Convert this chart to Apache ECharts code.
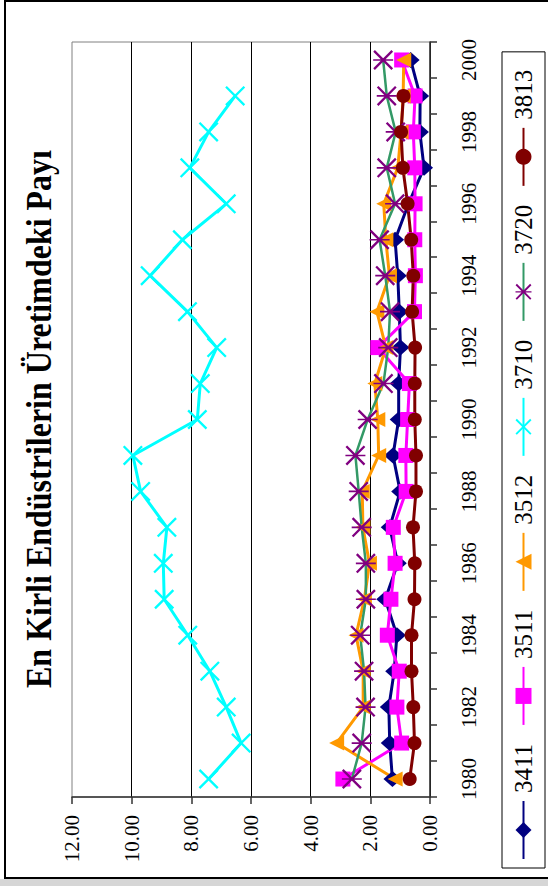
<!DOCTYPE html>
<html>
<head>
<meta charset="utf-8">
<script src="https://cdn.jsdelivr.net/npm/echarts@6/dist/echarts.min.js"></script>
<style>
  html, body { margin: 0; padding: 0; background: #fff; overflow: hidden; }
  #page { position: relative; width: 548px; height: 886px; overflow: hidden; background: #fff; }
  /* The chart is laid out landscape and turned a quarter turn counter-clockwise */
  #chart { position: absolute; left: 0; top: 886px; width: 886px; height: 548px;
           transform-origin: 0 0; transform: rotate(-90deg); }
</style>
</head>
<body>
<div id="page"><div id="chart"></div></div>
<script>
const titleText = 'En Kirli Endüstrilerin Üretimdeki Payı';

const years = ['1980','1981','1982','1983','1984','1985','1986','1987','1988','1989','1990',
               '1991','1992','1993','1994','1995','1996','1997','1998','1999','2000'];

const valueTicks = [0, 2, 4, 6, 8, 10, 12];

const names = ['3411', '3511', '3512', '3710', '3720', '3813'];

const s3411 = [1.26, 1.35, 1.38, 1.20, 1.11, 1.50, 1.08, 1.35, 1.00, 1.24, 1.05,
               1.05, 0.99, 1.03, 1.08, 1.17, 0.72, 0.20, 0.34, 0.33, 0.65];
const s3511 = [2.92, 0.95, 1.11, 1.03, 1.43, 1.31, 1.17, 1.23, 0.80, 0.81, 0.75,
               0.69, 1.75, 0.52, 0.49, 0.51, 0.50, 0.51, 0.56, 0.50, 0.95];
const s3512 = [1.17, 3.13, 2.24, 2.24, 2.48, 2.20, 2.03, 2.25, 2.27, 1.72, 1.75,
               1.85, 1.48, 1.78, 1.36, 1.48, 1.55, 1.08, 0.97, 0.90, 0.88];
const s3710 = [7.42, 6.33, 6.83, 7.38, 8.12, 8.91, 8.94, 8.82, 9.70, 9.96, 7.80,
               7.70, 7.15, 8.13, 9.38, 8.30, 6.83, 8.05, 7.42, 6.53, null];
const s3720 = [2.62, 2.29, 2.16, 2.21, 2.34, 2.15, 2.15, 2.29, 2.39, 2.50, 2.09,
               1.56, 1.40, 1.34, 1.50, 1.69, 1.17, 1.45, 1.15, 1.45, 1.57];
const s3813 = [0.68, 0.52, 0.56, 0.62, 0.62, 0.52, 0.51, 0.57, 0.47, 0.47, 0.51,
               0.51, 0.50, 0.60, 0.56, 0.63, 0.75, 0.91, 0.97, 0.89, null];

// Marker outlines: a thin "x" and an asterisk (x plus a vertical bar)
const d = 0.9;
const crossPath = 'path://' +
  `M${d},${-d}L${20 + d},${20 - d}L${20 - d},${20 + d}L${-d},${d}Z` +
  `M${20 + d},${d}L${d},${20 + d}L${-d},${20 - d}L${20 - d},${-d}Z`;
const starPath = crossPath +
  `M${10 - d},-1L${10 + d},-1L${10 + d},21L${10 - d},21Z`;

const serif = 'Liberation Serif';

function lineSeries(name, data, color, symbol, size, markerColor, width) {
  return {
    name, type: 'line', data,
    symbol, symbolSize: size,
    showAllSymbol: true,
    connectNulls: false,
    lineStyle: { color, width: width || 3 },
    itemStyle: { color: markerColor || color, borderWidth: 0 },
    emphasis: { disabled: true },
    z: 3
  };
}

const chart = echarts.init(document.getElementById('chart'), null, { renderer: 'svg', width: 886, height: 548 });

chart.setOption({
  animation: false,
  backgroundColor: '#fff',
  textStyle: { fontFamily: serif },
  graphic: [
    { type: 'rect', silent: true, z: -10, shape: { x: 0, y: 0, width: 7, height: 548 }, style: { fill: '#d6d6d6' } },
    { type: 'rect', silent: true, z: 10, shape: { x: 8, y: 5, width: 877, height: 600 },
      style: { fill: 'none', stroke: '#000', lineWidth: 2 } },
    { type: 'text', silent: true, x: 467, y: 44, scaleY: 1.12, originX: 467, originY: 44,
      style: { text: titleText, fontFamily: serif, fontWeight: 'bold', fontSize: 32, fill: '#000',
               align: 'center', verticalAlign: 'middle' } }
  ],
  grid: { left: 89, top: 72, width: 755, height: 358, show: true, borderColor: '#808080', borderWidth: 1 },
  legend: {
    data: names, orient: 'horizontal', left: 18, top: 502,
    itemWidth: 58, itemHeight: 20, itemGap: 18,
    padding: [7, 18, 7, 8],
    borderColor: '#000', borderWidth: 1,
    selectedMode: false,
    textStyle: { fontFamily: serif, fontSize: 25, color: '#000', lineHeight: 29, padding: [0, 0, 0, 3] }
  },
  xAxis: {
    type: 'category', data: years, boundaryGap: true,
    axisLine: { lineStyle: { color: '#333', width: 1.5 } },
    axisTick: { show: true, interval: 0, length: 7, lineStyle: { color: '#333', width: 1.5 } },
    axisLabel: { interval: 1, margin: 28, fontFamily: serif, fontSize: 21, color: '#000' },
    splitLine: { show: false }
  },
  yAxis: {
    type: 'value', min: valueTicks[0], max: valueTicks[valueTicks.length - 1], interval: valueTicks[1] - valueTicks[0],
    axisLine: { show: true, lineStyle: { color: '#333', width: 1.5 } },
    axisTick: { show: true, length: 7, lineStyle: { color: '#333', width: 1.5 } },
    axisLabel: { margin: 18, fontFamily: serif, fontSize: 21, color: '#000', formatter: v => v.toFixed(2) },
    splitLine: { show: true, showMaxLine: false, lineStyle: { color: '#000', width: 1 } }
  },
  series: [
    lineSeries('3411', s3411, '#000080', 'diamond', [16, 18]),
    lineSeries('3511', s3511, '#FF00FF', 'rect', 15),
    lineSeries('3512', s3512, '#FF9900', 'triangle', 15),
    lineSeries('3710', s3710, '#00FFFF', crossPath, 20),
    lineSeries('3720', s3720, '#339966', starPath, 20, '#800080', 2.5),
    lineSeries('3813', s3813, '#800000', 'circle', 14)
  ]
});
</script>
</body>
</html>
